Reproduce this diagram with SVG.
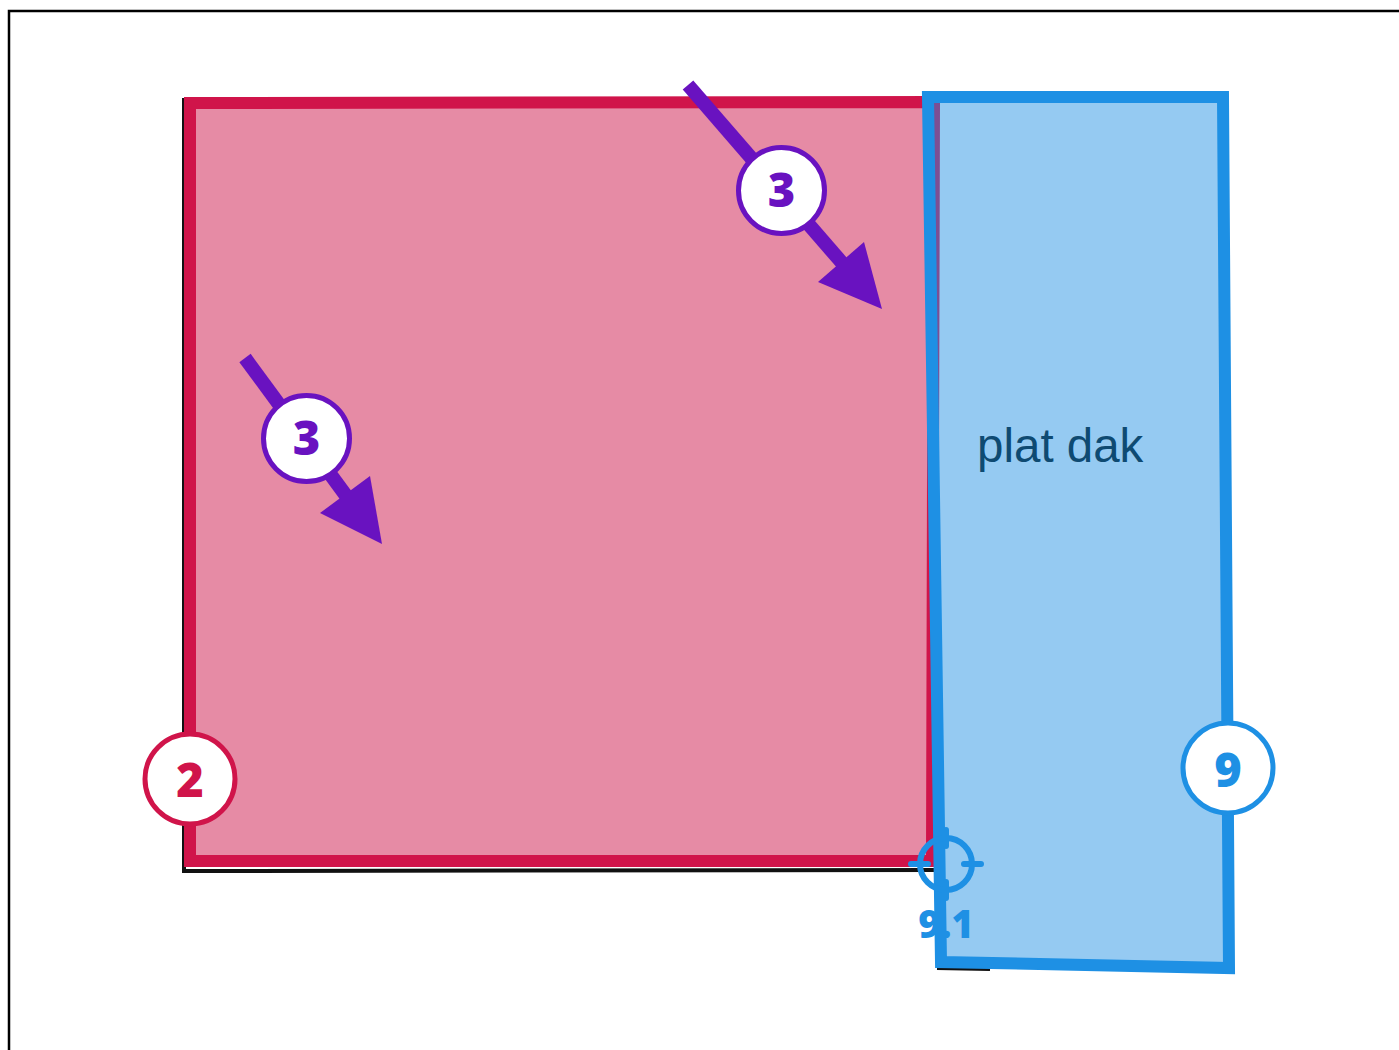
<svg xmlns="http://www.w3.org/2000/svg" width="1399" height="1050" viewBox="0 0 1399 1050">
<style>
.frame{fill:none;stroke:#000;stroke-width:2.5}
.shadow{fill:none;stroke:#111;stroke-width:4}
.pink{fill:#e68ba5;stroke:#d0144a;stroke-width:12;stroke-linejoin:miter}
.blue{fill:#2190e3;fill-opacity:0.48;stroke:#1e90e4;stroke-width:12;stroke-linejoin:miter}
.badge{fill:#fff;stroke-width:5}
.num{font-family:"Open Sans","Liberation Sans",sans-serif;font-weight:800;font-size:47px;text-anchor:middle}
.arrow{stroke:#6912c0;stroke-width:14;fill:none}
.head{fill:#6912c0}
.label{font-family:"Liberation Sans",Arial,sans-serif;font-size:47.5px;fill:#0e4a72}
.cross{fill:none;stroke:#1e90e4;stroke-width:6;stroke-linecap:round}
</style>
<rect width="1399" height="1050" fill="#fff"/>
<path class="frame" d="M9 1050 V11 H1399"/>
<g id="node-2">
<path class="shadow" d="M184 98 V871 L936 870"/>
<polygon class="pink" points="190,103 934,102 932,861 190,861"/>
<circle class="badge" cx="190" cy="779" r="45" stroke="#d0144a"/>
<text class="num" x="190" y="797" fill="#d0144a">2</text>
</g>
<g id="node-9">
<path class="shadow" d="M937 968 L990 969" stroke-width="3"/>
<polygon class="blue" points="928,97 1223,97 1229,968 941,962"/>
<text class="label" x="977" y="462">plat dak</text>
<circle class="badge" cx="1228" cy="768" r="45" stroke="#1e90e4"/>
<text class="num" x="1228" y="787" fill="#1e90e4">9</text>
</g>
<g id="connectors">
<line class="arrow" x1="688" y1="85" x2="843" y2="264"/>
<polygon class="head" points="882,309 818,282 864,242"/>
<line class="arrow" x1="245" y1="358" x2="347" y2="497"/>
<polygon class="head" points="382,544 320,513 370,476"/>
</g>
<g id="node-3a">
<circle class="badge" cx="781.5" cy="190.5" r="43" stroke="#6912c0"/>
<text class="num" x="781.5" y="207" fill="#6912c0">3</text>
</g>
<g id="node-3b">
<circle class="badge" cx="306.5" cy="438.5" r="43" stroke="#6912c0"/>
<text class="num" x="306.5" y="455" fill="#6912c0">3</text>
</g>
<g id="node-9-1">
<circle class="cross" cx="946" cy="864" r="26"/>
<path class="cross" d="M911 864 H928 M964 864 H981 M946 830 V846 M946 882 V898"/>
<text x="946" y="938" font-family="'Open Sans','Liberation Sans',sans-serif" font-weight="800" font-size="38" fill="#1e90e4" text-anchor="middle">9.1</text>
</g>
</svg>
